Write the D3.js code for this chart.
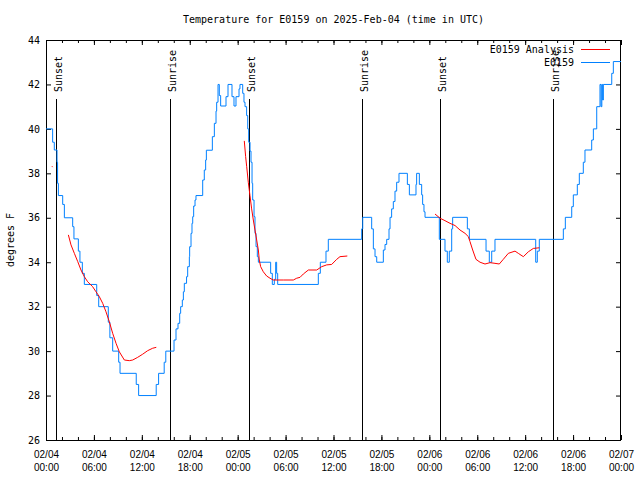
<!DOCTYPE html>
<html lang="en">
<head>
<meta charset="UTF-8">
<title>Temperature for E0159</title>
<script src="https://d3js.org/d3.v7.min.js"></script>
<style>
    body { margin: 0; background: #fff; }
    svg { font-family: "DejaVu Sans Mono", monospace; font-size: 10px; }
    .tick line { stroke: #000; }
    .domain { display: none; }
</style>
</head>
<body>
<svg width="640" height="480"></svg>
<script>
    // hours since 2025-02-04 00:00 UTC
    const obsHours = [0, 0.83, 1.04, 1.38, 1.45, 1.55, 2.09, 2.3, 3.34, 3.5, 4.05, 4.25, 4.55, 4.8, 6.35, 6.6, 7.8, 8.0, 8.35,
        9.1, 9.27, 11.3, 11.6, 13.8, 14.1, 14.8, 15.0, 16.03, 16.28, 16.53, 16.74, 16.86, 17.07, 17.2, 17.32, 17.6, 17.74,
        17.95, 17.99, 18.16, 18.28, 18.37, 18.49, 18.66, 18.78, 19.62, 19.82, 19.99, 20.08, 20.83, 21.08, 21.29, 21.37,
        21.54, 21.7, 21.87, 22.54, 22.79, 23.29, 23.54, 23.79, 24.17, 24.29, 24.63, 24.79, 24.92, 25.12, 25.26, 25.38,
        25.55, 25.67, 25.8, 25.88, 26.05, 26.17, 26.3, 26.46, 26.59, 28.13, 28.34, 28.59, 28.76, 28.88, 29.01, 34.1,
        34.35, 35.06, 35.35, 39.53, 39.66, 40.78, 40.99, 41.2, 41.41, 42.24, 42.45, 42.66, 42.95, 43.08, 43.28, 43.49,
        43.7, 43.91, 44.2, 45.25, 45.5, 46.33, 46.41, 46.75, 47.04, 47.16, 47.33, 47.46, 49.25, 49.96, 50.25, 50.5,
        50.8, 50.92, 52.76, 53.01, 55.1, 55.51, 55.81, 56.22, 61.32, 61.52, 61.77, 64.78, 65.03, 65.83, 66.03, 66.53,
        66.78, 67.28, 67.49, 68.33, 68.54, 68.96, 69.37, 69.5, 69.6, 69.7, 69.79, 70.84, 71.04, 72];
    const obsTemps = [40, 39.4, 39.05, 38.5, 37.55, 37, 36.6, 36, 35.6, 35.05, 34.5, 34, 33.5, 33, 32.5, 32, 31.3, 30.6, 30,
        29.5, 29, 28.5, 28, 28.5, 29, 29.5, 30, 30.5, 31, 31.25, 31.7, 32, 32.3, 32.67, 33.05, 33.35, 33.8,
        34.25, 34.7, 35.3, 35.75, 36.05, 36.53, 36.8, 37, 37.7, 38.15, 38.6, 39.04, 39.65, 40.25, 40.8, 41.2,
        42, 41.5, 41.03, 41.45, 42, 41.45, 41.03, 41.45, 41.8, 42, 41.6, 41.2, 41, 40.6, 40, 39.4,
        39, 38.5, 37.55, 36.8, 36.05, 35.3, 34.7, 34.25, 34, 33.5, 33, 33.23, 34, 33.5, 33, 33.5,
        34, 34.5, 35.03, 35.5, 36.02, 35.5, 34.6, 34.25, 34, 34.55, 34.8, 35.03, 35.5, 36.02, 36.4, 36.73,
        37.2, 37.6, 38, 37.5, 37.03, 37.5, 38, 37.5, 37.03, 36.6, 36.27, 36.02, 35.03, 34.5, 34, 34.5,
        35.5, 36.02, 35.5, 35.03, 34.5, 34, 34.5, 35.03, 34, 34.5, 35.03, 35.5, 36.02, 36.5, 37.03, 37.5,
        38, 38.5, 39.05, 39.5, 40, 41, 42, 41, 42, 41.3, 42, 42.5, 43.03, 43.03];

    // analysis series, null = gap
    const anaHours = [0.75, 0.83, null,
        2.8, 3.13, 3.55, 3.97, 4.38, 4.8, 5.22, 5.84, 6.26, 6.68, 7.1, 7.51, 7.93, 8.35, 8.77, 9.18, 9.81, 10.43,
        10.86, 11.48, 12.1, 12.73, 13.36, 13.81, null,
        24.83, 25.0, 25.13, 25.33, 25.54, 25.75, 25.96, 26.17, 26.38, 26.59, 26.71, 26.88, 27.21, 27.63, 28.05,
        28.46, 29.71, 30.97, 31.39, 31.81, 32.22, 32.85, 33.9, 34.52, 35.15, 35.77, 36.4, 36.81, 37.73, null,
        48.71, 49.34, 49.96, 50.59, 51.22, 51.84, 52.47, 52.89, 53.09, 53.43, 53.84, 54.35, 54.97, 55.6, 56.22,
        56.76, 57.26, 57.89, 58.73, 59.14, 59.77, 60.4, 61.02, 61.77];
    const anaTemps = [38.32, 38.28, null,
        35.23, 34.78, 34.4, 34.03, 33.65, 33.35, 33.12, 32.9, 32.67, 32.45, 32.15, 31.77, 31.32, 30.8, 30.35, 29.97, 29.6, 29.57,
        29.6, 29.72, 29.86, 30.02, 30.13, 30.17, null,
        39.46, 38.75, 38.3, 37.6, 37.0, 36.4, 35.9, 35.45, 35.0, 34.55, 34.1, 33.8, 33.57, 33.38, 33.28,
        33.2, 33.2, 33.2, 33.28, 33.32, 33.47, 33.65, 33.65, 33.8, 33.88, 33.9, 34.13, 34.25, 34.28, null,
        36.17, 35.98, 35.87, 35.75, 35.65, 35.45, 35.3, 35.15, 34.93, 34.55, 34.13, 34.0, 33.92, 33.98, 33.95,
        33.92, 34.13, 34.4, 34.5, 34.4, 34.25, 34.47, 34.62, 34.65];

    const sunHours = [1.29, 15.56, 25.38, 39.61, 49.37, 63.52];
    const sunLabels = ["Sunset", "Sunrise", "Sunset", "Sunrise", "Sunset", "Sunrise"];
    const yTicks = [26, 28, 30, 32, 34, 36, 38, 40, 42, 44];

    const t0 = Date.UTC(2025, 1, 4);
    const toDate = h => new Date(t0 + h * 3600e3);

    const svg = d3.select("svg");
    const mLeft = 46, mRight = 621, mTop = 40, mBottom = 440;

    const x = d3.scaleUtc().domain([toDate(0), toDate(72)]).range([mLeft, mRight]);
    const y = d3.scaleLinear().domain([26, 44]).range([mBottom, mTop]);

    // minor ticks (2h) bottom + top
    svg.append("g").attr("transform", `translate(0,${mBottom})`)
        .call(d3.axisBottom(x).ticks(d3.utcHour.every(2)).tickSize(-3).tickFormat(""));
    svg.append("g").attr("transform", `translate(0,${mTop})`)
        .call(d3.axisTop(x).ticks(d3.utcHour.every(2)).tickSize(-3).tickFormat(""));

    // major ticks
    const fmtDay = d3.utcFormat("%m/%d"), fmtHour = d3.utcFormat("%H:%M");
    const xAxis = svg.append("g").attr("transform", `translate(0,${mBottom})`)
        .call(d3.axisBottom(x).ticks(d3.utcHour.every(6)).tickSize(-5).tickFormat(""));
    xAxis.selectAll(".tick").append("text")
        .attr("fill", "#000").attr("text-anchor", "middle")
        .each(function(d) {
            const t = d3.select(this);
            t.append("tspan").attr("x", 0).attr("y", 18).text(fmtDay(d));
            t.append("tspan").attr("x", 0).attr("y", 31).text(fmtHour(d));
        });
    svg.append("g").attr("transform", `translate(0,${mTop})`)
        .call(d3.axisTop(x).ticks(d3.utcHour.every(6)).tickSize(-5).tickFormat(""));

    svg.append("g").attr("transform", `translate(${mLeft},0)`)
        .call(d3.axisLeft(y).tickValues(yTicks).tickSize(-5).tickPadding(6))
        .selectAll("text").attr("fill", "#000").style("font-size", "10px").style("font-family", "DejaVu Sans Mono");
    svg.append("g").attr("transform", `translate(${mRight},0)`)
        .call(d3.axisRight(y).tickValues(yTicks).tickSize(-5).tickFormat(""));

    svg.append("rect")
        .attr("x", mLeft + 0.5).attr("y", mTop + 0.5)
        .attr("width", mRight - mLeft - 1).attr("height", mBottom - mTop)
        .attr("fill", "none").attr("stroke", "#000");

    // sunrise / sunset markers
    const sun = svg.append("g");
    sunHours.forEach((h, i) => {
        const sx = Math.round(x(toDate(h))) + 0.5;
        sun.append("line").attr("x1", sx).attr("x2", sx).attr("y1", 99).attr("y2", mBottom)
            .attr("stroke", "#000").attr("stroke-width", 1);
        sun.append("text").attr("transform", `translate(${sx + 5.5},92) rotate(-90)`)
            .attr("fill", "#000").text(sunLabels[i]);
    });

    const obs = obsHours.map((h, i) => ({ t: toDate(h), v: obsTemps[i] }));
    const ana = anaHours.map((h, i) => ({ t: h == null ? null : toDate(h), v: anaTemps[i] }));

    svg.append("path").datum(obs)
        .attr("fill", "none").attr("stroke", "#0080ff").attr("stroke-width", 1)
        .attr("d", d3.line().x(d => x(d.t)).y(d => y(d.v)).curve(d3.curveStepAfter));

    svg.append("path").datum(ana)
        .attr("fill", "none").attr("stroke", "#ff0000").attr("stroke-width", 1)
        .attr("d", d3.line().defined(d => d.t != null).x(d => x(d.t)).y(d => y(d.v)));

    // legend
    const legend = svg.append("g");
    [["E0159 Analysis", "#ff0000", 53, 49.5], ["E0159", "#0080ff", 66, 62.5]].forEach(([name, col, ty, ly]) => {
        legend.append("text").attr("x", 574).attr("y", ty).attr("text-anchor", "end").attr("fill", "#000").text(name);
        legend.append("line").attr("x1", 581).attr("x2", 610).attr("y1", ly).attr("y2", ly)
            .attr("stroke", col).attr("stroke-width", 1);
    });

    svg.append("text").attr("x", (mLeft + mRight) / 2).attr("y", 23).attr("text-anchor", "middle")
        .attr("fill", "#000").text("Temperature for E0159 on 2025-Feb-04 (time in UTC)");

    svg.append("text").attr("transform", "translate(14,240) rotate(-90)").attr("text-anchor", "middle")
        .attr("fill", "#000").text("degrees F");
</script>
</body>
</html>
